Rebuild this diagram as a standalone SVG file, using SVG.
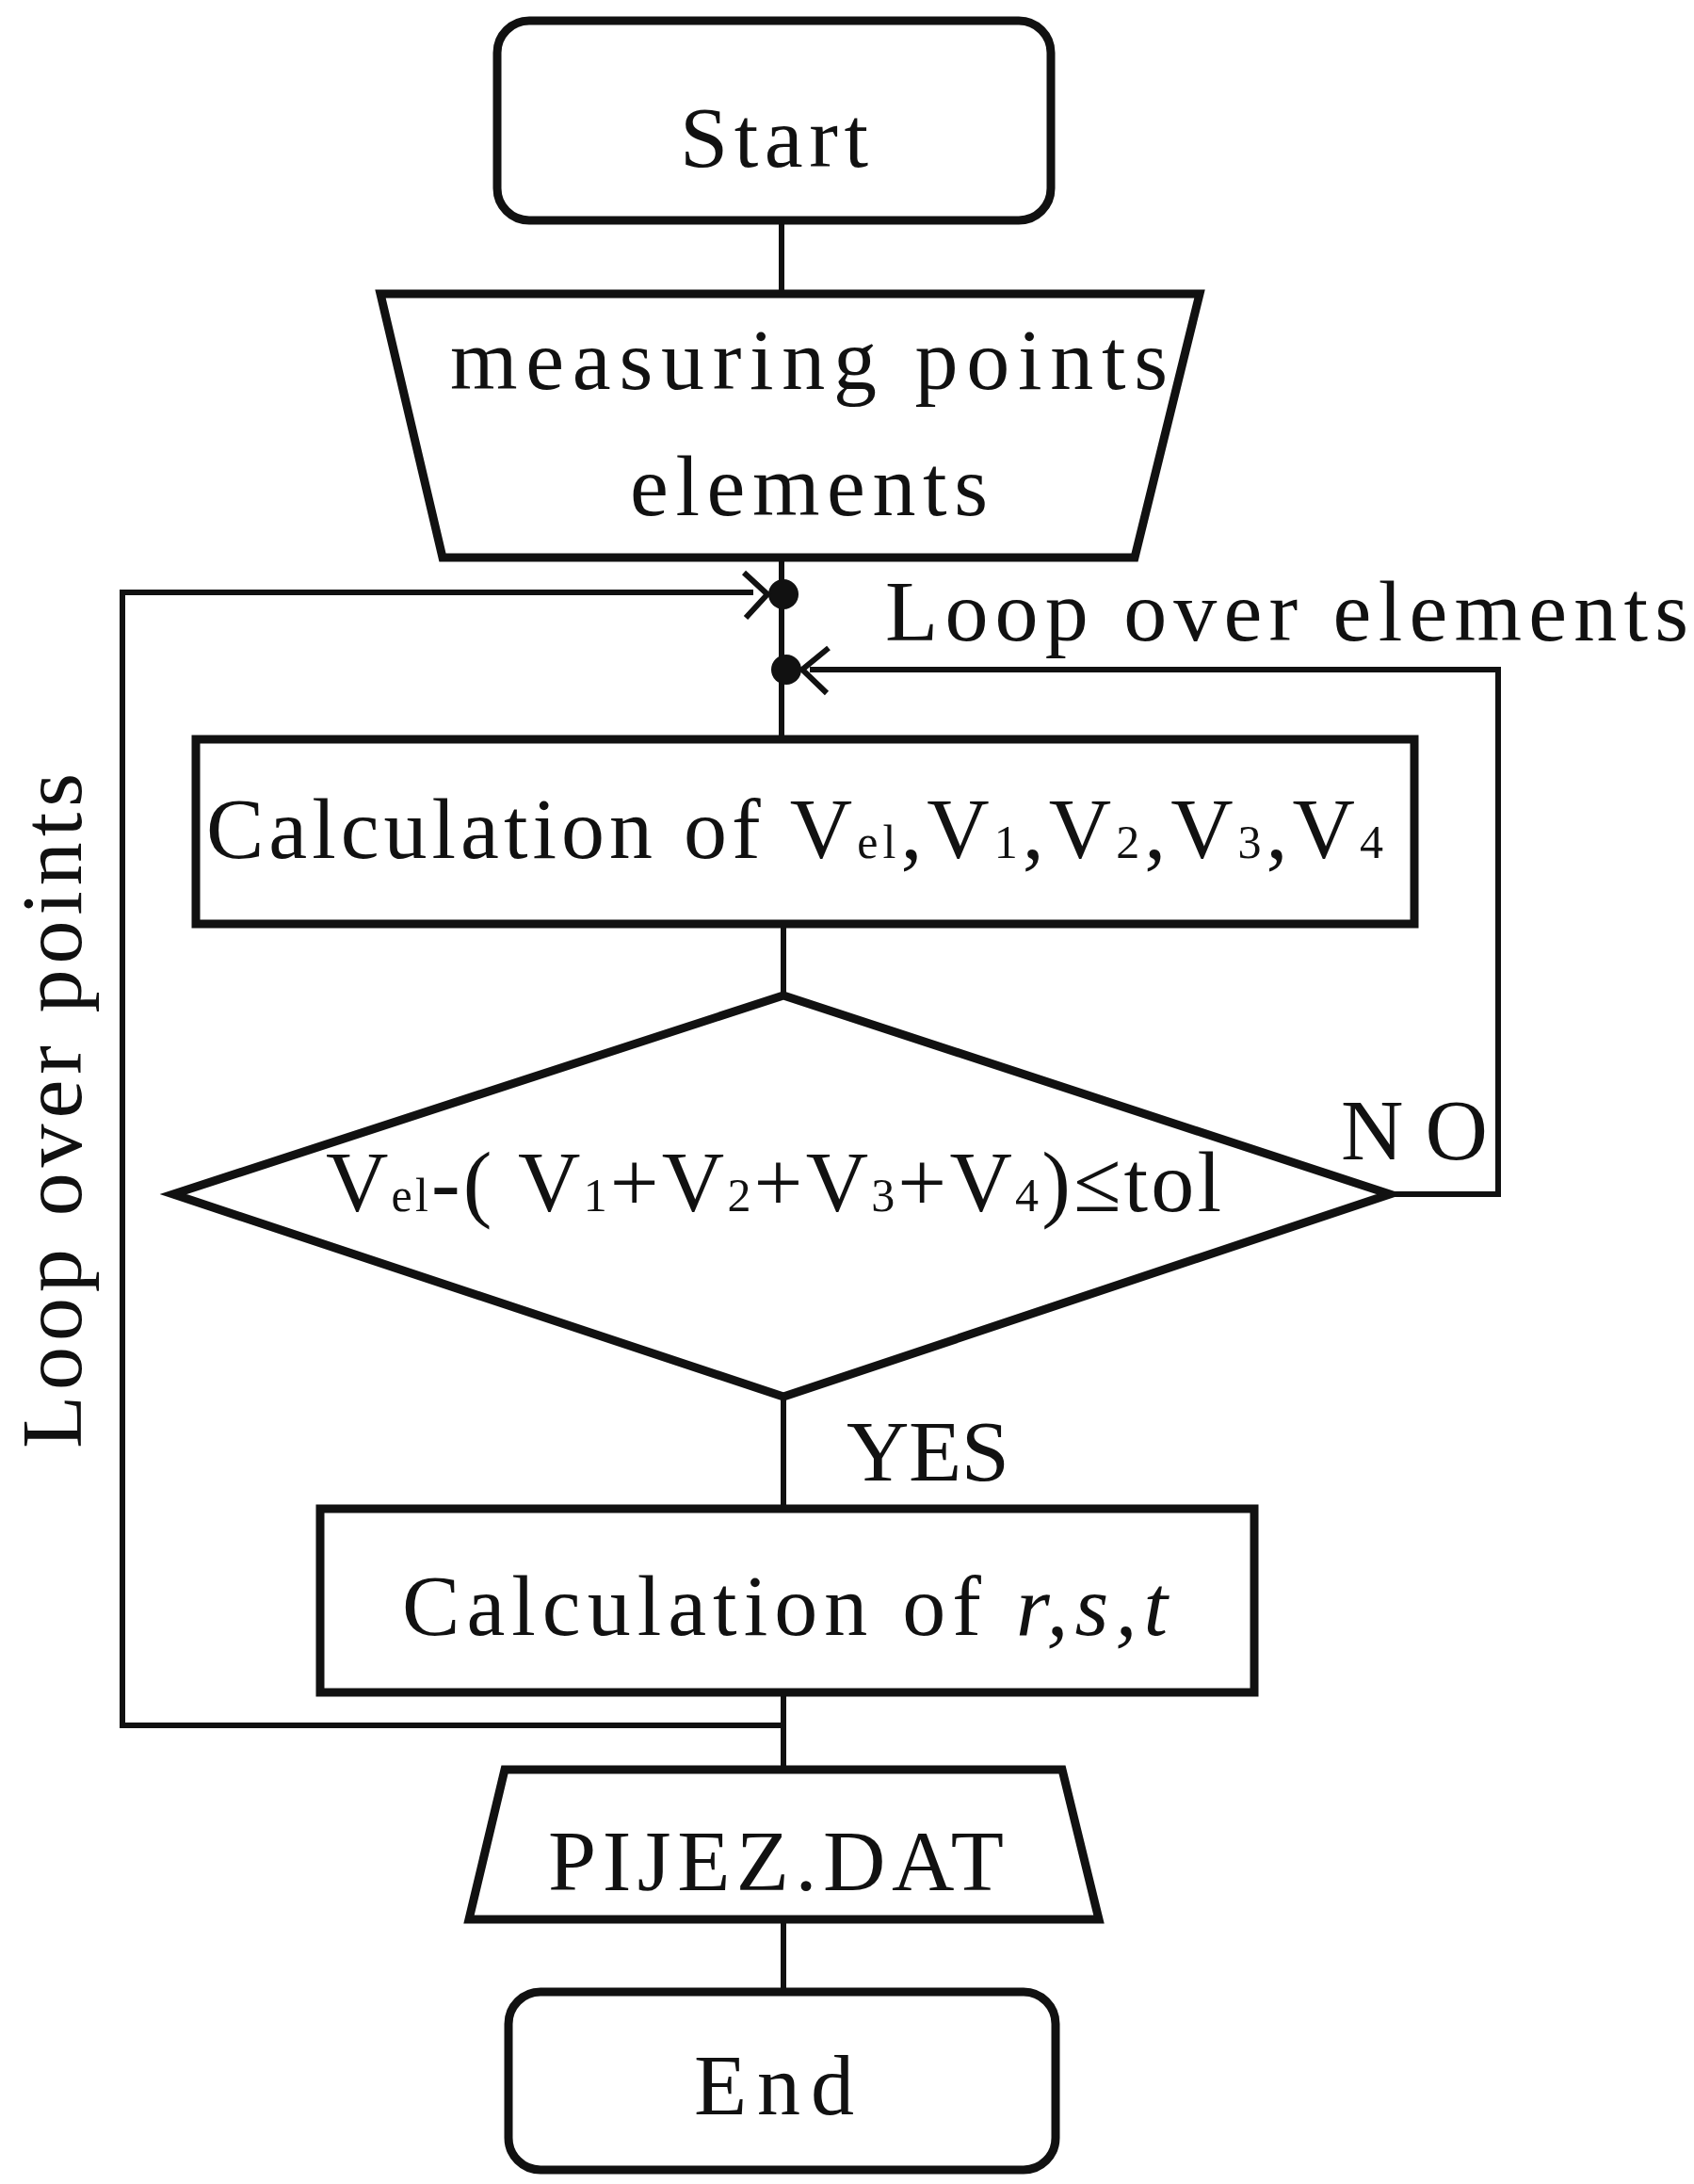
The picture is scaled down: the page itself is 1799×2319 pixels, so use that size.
<svg xmlns="http://www.w3.org/2000/svg" width="1799" height="2319" viewBox="0 0 1799 2319">
<style>
.n{fill:#fff;stroke:#111;stroke-width:9}
.c{fill:none;stroke:#111;stroke-width:6}
text{font-family:"Liberation Serif","DejaVu Serif",serif;fill:#111;font-size:92px}
.s{font-size:50px}
</style>
<rect width="1799" height="2319" fill="#fff"/>
<g id="connectors">
<path class="c" d="M830 234V312M830 592V785M832 981V1057M832 1483V1602M832 1797V2038M832 1879M832 2038V2115"/>
<path class="c" d="M832 1832H130V629H800"/>
<path class="c" d="M1476 1268H1591V711H860"/>
<circle cx="832" cy="631" r="16" fill="#111"/>
<circle cx="835" cy="711" r="16" fill="#111"/>
<path class="c" d="M790 608L815 631L792 656"/>
<path class="c" d="M880 688L852 711L878 736"/>
</g>
<g id="start"><rect class="n" x="528" y="22" width="588" height="212" rx="34"/><text x="822" y="177" text-anchor="middle" textLength="200">Start</text></g>
<g id="input"><path class="n" d="M404 312H1274L1205 592H470Z"/><text x="478" y="413" textLength="762">measuring points</text><text x="669" y="547" textLength="380">elements</text></g>
<g id="calc1"><rect class="n" x="208" y="785" width="1294" height="196"/><text x="219" y="911" textLength="1250">Calculation of V<tspan class="s">el</tspan>,V<tspan class="s">1</tspan>,V<tspan class="s">2</tspan>,V<tspan class="s">3</tspan>,V<tspan class="s">4</tspan></text></g>
<g id="decision"><path class="n" d="M832 1057L1476 1268L832 1483L184 1268Z"/><text x="346" y="1286" textLength="951">V<tspan class="s">el</tspan>-( V<tspan class="s">1</tspan>+V<tspan class="s">2</tspan>+V<tspan class="s">3</tspan>+V<tspan class="s">4</tspan>)≤tol</text></g>
<g id="calc2"><rect class="n" x="340" y="1602" width="992" height="195"/><text x="427" y="1736" textLength="813">Calculation of <tspan font-style="italic">r,s,t</tspan></text></g>
<g id="output"><path class="n" d="M536 1879H1128L1167 2038H498Z"/><text x="582" y="2007" textLength="484">PIJEZ.DAT</text></g>
<g id="end"><rect class="n" x="540" y="2115" width="581" height="189" rx="34"/><text x="822" y="2245" text-anchor="middle" textLength="170">End</text></g>
<text x="940" y="680" textLength="853">Loop over elements</text>
<text x="1424" y="1231" textLength="156">NO</text>
<text x="899" y="1572" textLength="173">YES</text>
<text transform="translate(86 1538) rotate(-90)" textLength="717">Loop over points</text>
</svg>
